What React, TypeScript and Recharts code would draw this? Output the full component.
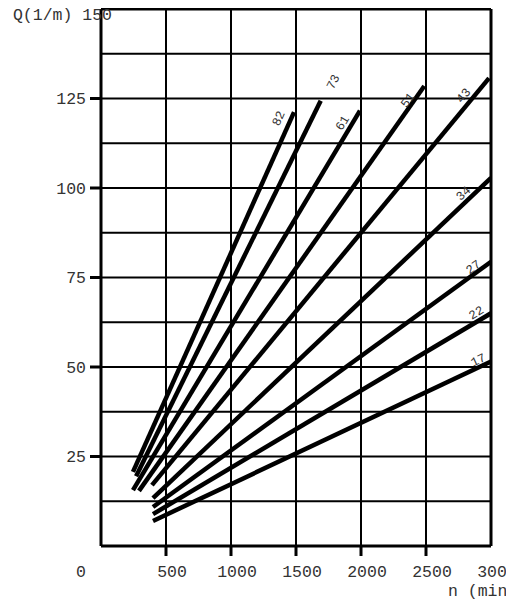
import React from 'react';
import { LineChart, Line, XAxis, YAxis, ReferenceLine } from 'recharts';

// pump displacement (line labels)
const displacements = [82, 73, 61, 51, 43, 34, 27, 22, 17];
// line start / end points (n in min-1, Q in l/min)
const startN = [246, 270, 246, 292, 392, 400, 400, 400, 400];
const startQ = [20.7, 19.5, 15.6, 15.4, 17.0, 13.4, 10.9, 8.9, 7.0];
const endN = [1485, 1690, 1992, 2487, 2985, 3000, 3000, 3000, 3000];
const endQ = [121.2, 124.4, 121.6, 128.5, 130.7, 102.8, 79.4, 65.0, 51.5];

const xTicks = [0, 500, 1000, 1500, 2000, 2500, 3000];
const yTicks = [25, 50, 75, 100, 125, 150];
const yGrid = [12.5, 25, 37.5, 50, 62.5, 75, 87.5, 100, 112.5, 125, 137.5];
const xGrid = [500, 1000, 1500, 2000, 2500];

// label styling (pixel offsets from line end, rotation)
const labelDx = [-16, 12, -18, -17, -26, -28, -18, -15, -13];
const labelDy = [6, -19, 12, 14, 17, 15, 5, -1, -2];
const labelAngle = [-66, -63, -59, -54, -50, -43, -36, -31, -25];

const FONT = '"Liberation Mono", "DejaVu Sans Mono", monospace';
const TEXT = '#333';

const YTick = (props: any) => {
  const { y, payload } = props;
  const v = payload.value;
  if (v === 150) {
    return (
      <text x={104} y={y + 5} dy="0.35em" textAnchor="end" fontFamily={FONT} fontSize={16.5} fill={TEXT}>
        Q(1/m) 150
      </text>
    );
  }
  return (
    <g>
      <line x1={82} x2={93} y1={y} y2={y} stroke="#000" strokeWidth={3} />
      <text x={78} y={y} dy="0.35em" textAnchor="end" fontFamily={FONT} fontSize={16.5} fill={TEXT}>
        {v}
      </text>
    </g>
  );
};

const XTick = (props: any) => {
  const { x, payload } = props;
  const v = payload.value;
  const tx = v === 0 ? x - 20 : x + 6;
  return (
    <g>
      {v !== 0 && v !== 3000 ? (
        <line x1={x} x2={x} y1={538} y2={548} stroke="#000" strokeWidth={3} />
      ) : null}
      <text x={tx} y={563} dy="0.35em" textAnchor="middle" fontFamily={FONT} fontSize={16.5} fill={TEXT}>
        {v}
      </text>
    </g>
  );
};

const makeLabel = (i: number) => (props: any) => {
  const { x, y, index } = props;
  if (index !== 1) return null;
  const lx = x + labelDx[i];
  const ly = y + labelDy[i];
  return (
    <text
      x={lx}
      y={ly}
      dy="0.35em"
      textAnchor="middle"
      fontFamily={FONT}
      fontSize={12.5}
      fill={TEXT}
      transform={`rotate(${labelAngle[i]} ${lx} ${ly})`}
    >
      {displacements[i]}
    </text>
  );
};

export default function App() {
  return (
    <LineChart width={506} height={592} margin={{ top: 1, right: 23, left: 0, bottom: 0 }}>
      <XAxis
        type="number"
        dataKey="n"
        domain={[0, 3000]}
        ticks={xTicks}
        allowDataOverflow
        axisLine={false}
        tickLine={false}
        height={54}
        tick={<XTick />}
        interval={0}
        label={{
          content: () => (
            <text x={440} y={582} dy="0.35em" fontFamily={FONT} fontSize={16.5} fill={TEXT}>
              n (min-1)
            </text>
          ),
        }}
      />
      <YAxis
        type="number"
        domain={[0, 150]}
        ticks={yTicks}
        allowDataOverflow
        axisLine={false}
        tickLine={false}
        width={93}
        tick={<YTick />}
        interval={0}
      />
      {yGrid.map((v) => (
        <ReferenceLine key={'y' + v} y={v} stroke="#000" strokeWidth={2} />
      ))}
      {xGrid.map((v) => (
        <ReferenceLine key={'x' + v} x={v} stroke="#000" strokeWidth={2} />
      ))}
      <ReferenceLine y={0} stroke="#000" strokeWidth={3} />
      <ReferenceLine y={150} stroke="#000" strokeWidth={3} />
      <ReferenceLine x={0} stroke="#000" strokeWidth={3} />
      <ReferenceLine x={3000} stroke="#000" strokeWidth={3} />
      {displacements.map((d, i) => (
        <Line
          key={d}
          data={[
            { n: startN[i], q: startQ[i] },
            { n: endN[i], q: endQ[i] },
          ]}
          dataKey="q"
          stroke="#000"
          strokeWidth={4.5}
          dot={false}
          isAnimationActive={false}
          label={makeLabel(i)}
        />
      ))}
    </LineChart>
  );
}
